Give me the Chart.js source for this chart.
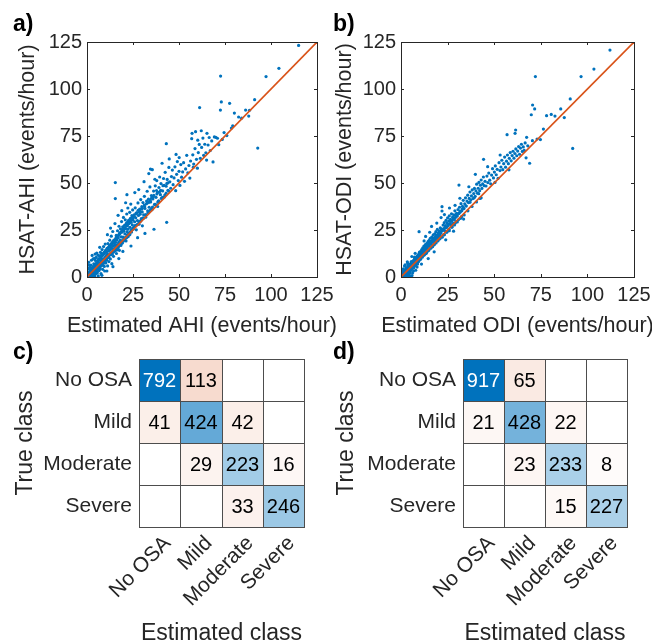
<!DOCTYPE html>
<html>
<head>
<meta charset="utf-8">
<script src="https://cdn.jsdelivr.net/npm/chart.js@4/dist/chart.umd.min.js"></script>
<style>
    body { margin: 0; background: #fff; }
    .wrap { position: relative; width: 652px; height: 644px; overflow: hidden; }
    canvas { position: absolute; }
    .tag { position: absolute; font: bold 23px 'Liberation Sans', Arial, sans-serif; line-height: 23px; color: #000; }
</style>
</head>
<body>
<div class="wrap">
    <canvas id="ahiScatter" width="340" height="343" style="left:0;top:0"></canvas>
    <canvas id="odiScatter" width="334" height="343" style="left:318px;top:0"></canvas>
    <canvas id="ahiMatrix" width="326" height="314" style="left:0;top:330px"></canvas>
    <canvas id="odiMatrix" width="326" height="314" style="left:326px;top:330px"></canvas>
    <div class="tag" style="left:13px;top:12px">a)</div>
    <div class="tag" style="left:333px;top:12px">b)</div>
    <div class="tag" style="left:13px;top:340px">c)</div>
    <div class="tag" style="left:333px;top:340px">d)</div>
</div>
<script>
// scatter values: [estimated, HSAT]
const ahiPoints = [
    [0.5,0.8],[0.8,0.2],[1,1.5],[1.2,0.5],[1.5,2.8],[1.7,1],[2,0.4],[2,3.5],[2.3,2],[2.5,1.2],[2.7,4.6],[3,2.6],[3,0.8],[3.2,5.5],[3.4,3.3],
    [3.5,1.6],[3.7,7],[3.9,4.2],[4,2.4],[4.2,0.5],[4.3,5.9],[4.5,3.6],[4.6,8.8],[4.8,4.9],[4.9,1.9],[1.1,4.2],[0.4,2.5],[2.1,6.3],[1.6,5.1],
    [3.3,9.6],[2.8,11.5],[0.9,7.8],[4.4,12.2],[5,10.4],[3.6,0.1],
    [5.2,4],[5.4,6.8],[5.6,2.2],[5.8,8.1],[6,5.3],[6.1,0.6],[6.3,9.7],[6.5,6.1],[6.6,3.4],[6.8,11.2],[7,7.4],[7.1,4.5],[7.3,13.1],[7.5,8.6],
    [7.6,1.8],[7.8,10],[8,6.6],[8.2,14.6],[8.3,8.9],[8.5,4.1],[8.7,11.8],[8.9,7.3],[9,16.2],[9.2,9.8],[9.4,5.6],[9.5,12.9],[9.7,8.4],[9.9,17.5],
    [10,10.6],[6.9,15.8],[5.3,12.7],[8.1,0.9],[9.6,3.2],
    [10.2,7.5],[10.4,13.7],[10.5,11.4],[10.7,9],[10.9,15.3],[11,12.1],[11.2,5.9],[11.4,17.8],[11.5,10.3],[11.7,13.8],[11.9,8.2],[12,15.9],
    [12.2,11.9],[12.4,19.6],[12.5,14.4],[12.7,9.6],[12.9,16.8],[13,12.7],[13.2,21.7],[13.4,15.2],[13.5,7.1],[13.7,17.9],[13.9,13.4],[14,24.2],
    [14.2,16.3],[14.4,11],[14.6,19.4],[14.8,14.8],[15,17.1],[11.1,22.5],[12.8,26],[10.8,3.2],[14.1,5.5],[15.2,28.4],[15.4,50.2],[15.4,41.7],
    [15.3,13.9],[15.5,18.5],[15.7,16],[15.9,22.1],[16,12.5],[16.2,19.7],[16.4,17.3],[16.6,24.6],[16.8,15.2],[17,20.8],[17.2,18.4],[17.4,27],
    [17.6,14.2],[17.8,22.9],[18,19.5],[18.2,25.6],[18.4,16.8],[18.6,21.3],[18.8,29.5],[19,23.9],[19.2,18.1],[19.4,26.7],[19.6,21.2],[19.8,31.7],
    [20,24.4],[16.9,32.8],[18.9,35.3],[17.3,9.8],[19.5,13.6],
    [20.2,20.3],[20.4,27.5],[20.6,23],[20.8,30.4],[21,25.7],[21.2,19.2],[21.4,28.6],[21.6,33.5],[21.8,24.1],[22,27.3],[22.2,36.7],[22.4,25.5],
    [22.6,30.1],[22.8,22.2],[23,28.8],[23.2,34.4],[23.4,26.4],[23.6,31.2],[23.8,38.8],[24,29.1],[24.2,23.9],[24.4,32.6],[24.6,27.8],[24.8,35.7],
    [25,30.3],[21.7,43.8],[21,39.5],[23.9,16.5],
    [25.3,26.4],[25.6,33],[25.9,29.4],[26.2,36.8],[26.5,31.5],[26.8,25.1],[27.1,34.2],[27.4,30],[27.7,39.4],[28,32.7],[28.3,28.1],[28.6,36.1],
    [28.9,33.4],[29.2,41.2],[29.5,31],[29.8,37.4],[30,34.6],[26,44.9],[28.1,46.5],[30.1,27.2],[27.5,20.9],
    [30.4,39.6],[30.8,33.1],[31.2,42.9],[31.5,36.5],[31.9,31.8],[32.3,38.9],[32.7,45.6],[33,35.2],[33.4,41.4],[33.8,37.1],[34.2,47.9],[34.6,39.9],
    [35,43.3],[31,50.7],[33.6,55],[34.5,57.4],[31.5,23.2],[35.3,35.8],
    [35.5,57.1],[35.8,41.5],[36.2,45.7],[36.4,25.4],[36.7,38.6],[37.1,48.5],[37.5,42.4],[37.9,51.3],[38.3,44.9],[38.7,40.3],[39.1,47.6],
    [39.5,53.2],[39.9,43.8],[36.9,52],[38.4,37.5],
    [40.2,49.7],[40.8,60.5],[41.1,45.8],[41.6,52.4],[42,42.6],[42.5,55.7],[43,48.3],[43.1,70.9],[43.3,29.1],[43.6,51.9],[44,46.1],[44.5,58.3],
    [44.7,62.8],[45,50.6],
    [45.5,47.2],[45.9,53.4],[46.4,56.9],[46.8,49.1],[47.3,52.7],[47.8,58.6],[48.2,45.9],[48.7,54.6],[49.1,61.4],[49.6,51.3],[50,56.2],[50.5,48.7],
    [51,59.8],[51.4,53.1],[52,55.9],[52.5,60.8],[53,50.9],[53.6,57.5],[54.2,64.7],[54.8,55.4],[50.1,63.5],[48.4,65.2],
    [55.4,59.3],[55.9,52.6],[56.3,61.7],[56.9,73.6],[57.1,76.4],[57.5,65],[58,60.1],[58.7,68.3],[59,77.3],[59.5,62.6],[60,57.9],[60.5,66.2],
    [61,70.5],[61.2,90.1],[61.6,63.1],[62.1,77.8],[62.3,68.9],[63,73.9],[63.4,64.7],[64,70.6],[64.6,66.1],[65.2,76.4],[65,62.2],[57.8,58.4],[60.2,72.8],
    [65.8,70.2],[66.4,74.2],[67,67.3],[67.8,72.4],[68.5,61.2],[69.2,74.5],[70,74.3],[70.9,73.8],[71.6,70.4],[72.5,88.8],[72.6,106.9],[73,93.1],
    [73.5,73.2],[74.5,76.8],[76,75.2],
    [77.5,92.4],[78.5,79.2],[79.2,80.4],[80.1,87.2],[82.4,85.1],[84,84.5],[86.2,88.8],[87.9,85.6],[88.3,88.7],[91.1,94.3],[92.8,68.6],
    [97.3,106.6],[104.3,111],[115,123.2],
    [0.3,0.5],[0.7,1.6],[1.3,0.9],[1.9,3.1],[2.4,1.8],[2.9,4.6],[3.1,2.2],[3.8,5.4],[4.1,3],[4.7,6.9],[5.1,4.2],[5.5,7.7],[5.9,5.1],[6.2,8.9],
    [6.4,5.8],[6.7,9.6],[7.2,6.6],[7.4,10.8],[7.9,7.2],[8.4,11.6],[8.6,7.9],[8.8,12.4],[9.1,8.6],[9.3,13.1],[9.8,9.5],[10.1,14.2],[10.3,9.8],
    [10.6,13.3],[11.3,10.9],[11.6,15.7],[11.8,11.4],[12.1,16.3],[12.3,12.1],[12.6,15.9],[13.1,12.6],[13.3,17.8],[13.6,13.2],[13.8,18.4],
    [14.3,14.1],[14.5,19.3],[14.7,14.6],[14.9,18.1],[15.6,15.2],[15.8,20.9],[16.1,16.4],[16.3,21.6],[16.7,16.9],[17.1,22.2],[17.5,17.6],[17.9,23.5],
    [18.3,18.2],[18.7,24.2],[19.1,19.3],[19.7,25.4],[20.3,20.6],[20.7,26.1],[21.1,21.3],[21.5,27.2],[21.9,22.4],[22.3,28.3],[22.7,23.2],[23.1,29.1],
    [23.5,24],[23.9,30.4],[24.3,25.2],[24.7,31.2],[25.2,26],[25.7,32.3],[26.3,27.4],[26.9,33.6],[27.6,28.1],[28.4,34.5],[29,29.6],[29.7,36.2],
    [30.5,31.4],[31.3,37.5],[32,33],[32.8,39.4],[33.5,34.6],[34.3,40.8],[35.1,36.3],[36,42.5],[37,38.4],[38,44.2],[39,40.5],[40,46.1],[41,42.4],
    [42,48.7],[43,44.6],[44,50.1],
    [0.6,1.9],[1.4,0.3],[1.8,2.4],[2.2,1.1],[2.6,3.3],[3.5,4.5],[4.2,3.1],[4.6,6.4],[5.3,3.2],[5.7,7.4],[6.3,4.4],[6.6,9.1],[7.1,6.2],[7.7,7.1],
    [8.1,11.3],[8.5,6.2],[9.2,12.4],[9.6,7.6],[10.2,13.4],[10.9,10.8],[11.4,14.9],[11.9,10.6],[12.4,16.8],[12.9,11.9],[13.4,17.3],[13.8,12.2],
    [14.2,18.6],[14.6,13.4],[15.1,19.9],[15.5,15.2],[15.9,20.5],[16.3,14.4],[16.8,21.7],[17.2,16.2],[17.6,23.1],[18.1,17.4],[18.5,23.8],[18.9,17.9],
    [19.3,24.9],[19.8,19.1],[20.2,25.7],[20.6,19.8],[21,27.6],[21.5,20.9],[21.9,29.1],[22.3,21.4],[22.8,28.4],[23.3,22.6],[23.7,29.9],[24.2,24.8],
    [24.6,31.3],[25.1,25.4],[25.5,31.9],[26,27.2],[26.6,33.8],[27.1,27.8],[27.8,35.5],[28.3,29.4],[28.8,34.9],[29.4,30.2],[30,36.6],[30.6,31.2],
    [31.2,38.3],[31.8,33.1],[32.4,40.4],[33.1,34.2],[33.7,39.7],[34.4,35.6],[35,41.9],[35.6,37.2],[36.3,43.4],[37.2,38.6],[37.8,46],[38.6,39.7],
    [39.3,45.1],[40.4,41.8],[41.3,48.6],[42.3,43.6],[43.4,49.8],[44.4,45.7],
    [0.2,1.2],[0.5,0.1],[1.1,2.6],[1.5,0.6],[2.1,1.7],[2.6,0.5],[3,4.4],[3.4,1.1],[3.9,5.3],[4.3,1.5],[4.9,7.1],[5.4,2.7],[5.9,4.6],[6.6,5.2],
    [7.3,5.6],[7.9,12.2],[6,11.6],[4.1,9.9],[2.4,8.9],[1.2,6.3],[0.6,4.6]
]
const odiPoints = [
    [0.3,0.4],[0.6,1.2],[0.9,0.3],[1.1,1.8],[1.4,0.9],[1.6,2.6],[1.8,1.5],[2.1,3.1],[2.3,0.6],[2.5,2.3],[2.7,3.9],[2.9,1.8],[3.1,3.4],[3.3,4.8],
    [3.5,2.6],[3.7,4.1],[3.9,1.2],[4.1,5.4],[4.3,3.6],[4.5,4.8],[4.7,6.5],[4.9,2.9],[5.1,5.6],[5.3,7.2],[5.5,4.3],[5.7,6.2],[5.9,0.8],[6.1,7.7],
    [6.3,5.4],[6.5,6.9],[6.7,8.6],[6.9,4.9],[7.1,7.8],[7.3,9.4],[7.5,6.3],[7.7,8.4],[7.9,3.6],[8.1,9.9],[8.3,7.5],[8.5,8.9],[8.7,11],[8.9,6.9],
    [9.1,10.2],[9.3,11.9],[9.5,8.3],[9.7,10.6],[9.9,13.2],[1.3,4.3],[2.2,6.4],[3.4,8.1],[0.8,3.1],[4.4,0.3],[6.2,2.1],[7.6,12.6],[9.7,24.1],
    [5.8,10.9],[2.6,0.2],[1.9,5.8],
    [10.1,9.6],[10.3,11.8],[10.5,13.5],[10.7,10.4],[10.9,12.4],[11.1,14.6],[11.3,11.3],[11.5,13.1],[11.7,15.5],[11.9,12.2],[12.1,14.3],[12.3,16.5],
    [12.5,11.8],[12.7,15.1],[12.9,13.6],[13.1,17.2],[13.3,14.4],[13.5,16.1],[13.7,12.7],[13.9,17.9],[14.1,15.2],[14.3,16.8],[14.5,18.8],[14.7,14.1],
    [14.9,17.4],[15.1,19.5],[15.3,16.2],[15.5,18.1],[15.7,20.6],[15.9,15.6],[16.1,19],[16.3,17.4],[16.5,21.2],[16.7,18.6],[16.9,16.3],[17.1,20.1],
    [17.3,22.4],[17.5,18.9],[17.7,20.7],[17.9,17.5],[18.1,22.9],[18.3,19.8],[18.5,21.5],[18.7,24.1],[18.9,19.2],[19.1,22.3],[19.3,20.6],[19.5,25.3],
    [19.7,21.4],[19.9,23.5],[11,6.9],[13.2,21.6],[14.6,9.8],[16.4,26.9],[12.4,19.2],[17.8,13.4],[15.4,23.8],[19.2,28.7],
    [20.2,21.9],[20.5,24.6],[20.8,22.5],[21.1,26.2],[21.4,23.3],[21.7,25.4],[22,37.4],[22,35.1],[22.3,24.8],[22.6,27.6],[22.9,25.2],[23.2,28.9],
    [23.5,24.7],[23.8,27.4],[24.1,30.1],[24.4,26.3],[24.7,28.8],[25,31.4],[25.3,27.2],[25.6,29.8],[25.9,32.5],[26.2,28.3],[26.5,30.7],[26.8,27.9],
    [27.1,33.6],[27.4,29.9],[27.7,31.8],[28,28.6],[28.3,33.1],[28.6,30.6],[28.9,35.2],[29.2,31.7],[29.5,29.5],[29.8,33.9],[21.5,31.6],[24,19.8],
    [26,36.7],[28.2,24.4],[23.3,33.2],[29,38.1],
    [30.2,32.4],[30.6,35.9],[31,33.8],[31.1,48.9],[31.4,37.1],[31.8,34.6],[32.2,39],[32.6,35.2],[33,37.6],[33.4,40.8],[33.8,36.4],[34.2,38.9],
    [34.6,42.1],[35,37.7],[35.4,40.4],[35.8,43.5],[36.2,39.6],[36.6,41.8],[37,45.2],[37.4,40.9],[37.8,43.1],[38.2,46.3],[38.6,41.7],[39,44.4],
    [39.4,47.1],[39.8,42.9],[40.2,45.8],[40.6,49.4],[41,44.6],[41.4,47.2],[41.8,50.3],[42.2,45.9],[42.6,48.8],[43,51.6],[43.4,47.1],[43.8,49.5],
    [44.3,62.6],[44.2,53.2],[44.6,48.6],[39.9,54.6],[33.6,30.8],[36.4,48],[42.4,41.8],[31.6,41.9],
    [45.1,50.9],[45.6,48.4],[46.1,53.7],[46.6,50.2],[47.1,55.3],[47.6,51.5],[48.1,49.6],[48.6,54.2],[49.1,57.6],[49.6,52.7],[50.1,55.8],[50.6,59.1],
    [51.1,54.4],[51.6,57.3],[52.1,52.5],[52.6,60.8],[53.1,56.6],[53.6,58.5],[54.1,62.1],[54.6,57.1],[55.1,60.3],[55.6,63.8],[56.1,58.4],[56.6,61.6],
    [56.9,75.7],[57.1,64.9],[57.6,60.3],[58.1,63.1],[58.6,66.2],[59.1,61.8],[59.6,64.6],[46.5,58.7],[50.4,50.3],[53.2,64.9],[57.9,57],
    [60.1,66.9],[60.6,63.2],[61.1,65.7],[61.5,78.2],[61.2,76.4],[61.6,68.1],[62.1,64.5],[62.6,67],[63.1,69.4],[63.6,65.3],[64.1,68.6],[64.6,70.6],
    [65.1,66.8],[65.6,69.2],[66.1,67.4],[66.6,71.3],[67.4,74.3],[67.1,63.4],[68,69.8],[69,60.5],[73,73.4],[70.5,72.5],[69.9,86.3],[70.6,91.5],
    [71.7,89.4],[72.1,106.6],[74.8,73.1],
    [76.4,78.7],[78.1,85.8],[80.6,86.5],[82.6,85.6],[85.7,89.4],[87.6,84.8],[90.8,94.7],[92.1,68.4],[96.6,106.6],[103.5,110.6],[112.1,120.7],
    [0.5,0.7],[1,2],[1.5,1.1],[2,2.9],[2.4,1.9],[2.8,4.1],[3.2,2.8],[3.6,5.2],[4,3.7],[4.6,6.4],[5,4.6],[5.4,7.3],[6,5.5],[6.4,8.4],[6.8,6.6],
    [7.2,9.5],[7.8,7.4],[8.2,10.6],[8.6,8.1],[9,11.4],[9.4,9.2],[9.8,12.1],[10.2,10],[10.6,13.2],[11.2,11],[11.6,14.1],[12.2,12.1],[12.6,15],
    [13.2,12.9],[13.6,16.2],[14.2,14.1],[14.8,17.3],[15.2,15.1],[15.8,18.6],[16.2,16.2],[16.8,19.4],[17.4,17.1],[18,20.7],[18.6,18.4],[19.4,22.1],
    [20,19.8],[20.7,23.6],[21.3,21.2],[22.1,24.8],[22.8,22.3],[23.6,26.4],[24.3,23.9],[25.1,28.2],[25.8,25.4],[26.6,29.6],[27.4,26.9],[28.2,31.3],
    [29,28.6],[29.9,32.8],[30.8,30.4],[31.7,34.9],[32.5,32.1],[33.5,36.6],
    [0.4,1.5],[0.9,0.1],[1.3,2.1],[1.7,0.4],[2.3,3.4],[2.6,1.4],[3.1,4.1],[3.5,1.9],[4,5.1],[4.3,2.4],[4.8,6.1],[5.2,3.6],[5.6,7.1],[6.1,4.5],
    [6.5,8.1],[6.9,5.8],[7.4,8.7],[7.8,6.2],[8.3,10.1],[8.8,7.6],[9.2,11.3],[9.6,8.9],[10.1,12.4],[10.5,9.4],[11,13.1],[11.4,10.5],[11.9,14.2],
    [12.3,11.6],[12.8,14.9],[13.2,12.4],[13.7,16.1],[14.1,13.5],[14.6,17],[15,14.3],[15.5,17.9],[16,15.3],[16.4,18.9],[16.9,16.1],[17.4,19.8],
    [17.8,17.2],[18.3,21],[18.8,18.1],[19.3,21.9],[19.8,19.2],[20.4,23.2],[20.9,20.3],[21.5,24.1],[22.1,21.2],[22.7,25.6],[23.3,22.5],[23.9,26.4],
    [24.6,23.8],[25.2,27.8],[25.9,24.6],[26.6,29.5],[27.3,26.4],[28,30.9],[28.7,27.7],[29.4,32.6],[30.2,29.3],[31.1,33.9],[32,31.2],[32.9,36.1],
    [33.9,33],[34.8,37.9],[35.9,35.2],[37,39.7],[38.1,37.5],[39.3,42.1],[40.5,39.9],[41.7,44.3],[43,42.1],
    [0.2,0.9],[0.7,2.4],[1.2,0.7],[1.6,3.5],[2,0.9],[2.9,4.9],[3.3,0.4],[3.8,6.3],[4.6,1.8],[5.5,8.2],[6.7,3.2],[7.2,10.6],[8.6,5.3],[5,0.4],[3.6,7.2]
]
const identityLine = [0, 125]
const axisTicks = [0, 25, 50, 75, 100, 125]

// confusion matrices, rows = true class, columns = estimated class
const classes = ['No OSA', 'Mild', 'Moderate', 'Severe']
const ahiCounts = [
    [792, 113, 0, 0],
    [41, 424, 42, 0],
    [0, 29, 223, 16],
    [0, 0, 33, 246]
]
const odiCounts = [
    [917, 65, 0, 0],
    [21, 428, 22, 0],
    [0, 23, 233, 8],
    [0, 0, 15, 227]
]

const family = "'Liberation Sans', Arial, sans-serif"
Chart.defaults.font.family = family
Chart.defaults.color = '#262626'

const ink = '#262626'

// MATLAB style box with inward ticks on all four sides
const boxPlugin = {
    id: 'box',
    afterDatasetsDraw(chart) {
        const {ctx, chartArea: a, scales: {x, y}} = chart
        const len = 3
        ctx.save()
        ctx.strokeStyle = ink
        ctx.lineWidth = 1
        ctx.beginPath()
        x.ticks.forEach(t => {
            const px = Math.round(x.getPixelForValue(t.value)) + 0.5
            ctx.moveTo(px, a.bottom); ctx.lineTo(px, a.bottom - len)
            ctx.moveTo(px, a.top); ctx.lineTo(px, a.top + len)
        })
        y.ticks.forEach(t => {
            const py = Math.round(y.getPixelForValue(t.value)) + 0.5
            ctx.moveTo(a.left, py); ctx.lineTo(a.left + len, py)
            ctx.moveTo(a.right, py); ctx.lineTo(a.right - len, py)
        })
        ctx.stroke()
        ctx.strokeRect(Math.round(a.left) + 0.5, Math.round(a.top) + 0.5,
            Math.round(a.right - a.left), Math.round(a.bottom - a.top))
        ctx.restore()
    }
}

// axis titles drawn at full width (the built-in title squeezes long text)
const titlePlugin = {
    id: 'axisTitles',
    afterDraw(chart, args, opts) {
        const {ctx, chartArea: a} = chart
        ctx.save()
        ctx.fillStyle = ink
        ctx.font = `${opts.size}px ${family}`
        ctx.textAlign = 'center'
        ctx.textBaseline = 'middle'
        ctx.fillText(opts.x, (a.left + a.right) / 2, opts.xAt)
        ctx.translate(opts.yAt, (a.top + a.bottom) / 2)
        ctx.rotate(-Math.PI / 2)
        ctx.fillText(opts.y, 0, 0)
        ctx.restore()
    }
}

const makeScatter = (id, points, xTitle, yTitle, yWidth, padRight, yTitleAt) => {
    new Chart(document.getElementById(id), {
        type: 'scatter',
        data: {
            datasets: [
                {
                    type: 'line',
                    data: identityLine.map(v => ({x: v, y: v})),
                    borderColor: '#D95319',
                    borderWidth: 1.6,
                    pointRadius: 0,
                    order: 0
                },
                {
                    data: points.map(p => ({x: p[0], y: p[1]})),
                    pointRadius: 1.6,
                    pointBorderWidth: 0,
                    pointBackgroundColor: '#0072BD',
                    order: 1
                }
            ]
        },
        options: {
            responsive: false,
            animation: false,
            events: [],
            layout: {padding: {top: 42, right: padRight, left: 0, bottom: 0}},
            plugins: {
                legend: {display: false},
                tooltip: {enabled: false},
                axisTitles: {x: xTitle, y: yTitle, size: 21.5, xAt: 326, yAt: yTitleAt}
            },
            scales: {
                x: {
                    type: 'linear', min: 0, max: 125,
                    afterBuildTicks: s => { s.ticks = axisTicks.map(v => ({value: v})) },
                    afterFit: s => { s.height = 66; s.paddingLeft = 0; s.paddingRight = 0 },
                    grid: {display: false, drawTicks: false},
                    border: {display: false},
                    ticks: {padding: 6, font: {size: 20}, color: ink}
                },
                y: {
                    type: 'linear', min: 0, max: 125,
                    afterBuildTicks: s => { s.ticks = axisTicks.map(v => ({value: v})) },
                    afterFit: s => { s.width = yWidth; s.paddingTop = 0; s.paddingBottom = 0 },
                    grid: {display: false, drawTicks: false},
                    border: {display: false},
                    ticks: {padding: 5, font: {size: 20}, color: ink}
                }
            }
        },
        plugins: [boxPlugin, titlePlugin]
    })
}

// cell colours scale from white toward blue (diagonal) or orange (off-diagonal)
const shade = (base, f) => base.map(c => Math.round(255 - f * (255 - c)))

const matrixPlugin = {
    id: 'matrix',
    beforeDatasetsDraw(chart) {
        const {ctx, scales: {x, y}} = chart
        const cells = chart.data.datasets[0].data
        const top = Math.max(...cells.map(c => c.v))
        ctx.save()
        cells.forEach(c => {
            const col = classes.indexOf(c.x)
            const row = classes.indexOf(c.y)
            const x0 = Math.round(x.getPixelForValue(col - 0.5))
            const x1 = Math.round(x.getPixelForValue(col + 0.5))
            const y0 = Math.round(y.getPixelForValue(row - 0.5))
            const y1 = Math.round(y.getPixelForValue(row + 0.5))
            const f = Math.pow(c.v / top, 0.8)
            const rgb = c.v === 0 ? [255, 255, 255] : shade(row === col ? [0, 114, 189] : [217, 83, 25], f)
            ctx.fillStyle = `rgb(${rgb.join(',')})`
            ctx.fillRect(Math.min(x0, x1), Math.min(y0, y1), Math.abs(x1 - x0), Math.abs(y1 - y0))
            if (c.v > 0) {
                const lum = 0.299 * rgb[0] + 0.587 * rgb[1] + 0.114 * rgb[2]
                ctx.fillStyle = lum < 140 ? '#ffffff' : '#000000'
                ctx.font = `20px ${family}`
                ctx.textAlign = 'center'
                ctx.textBaseline = 'middle'
                ctx.fillText(String(c.v), (x0 + x1) / 2, (y0 + y1) / 2 + 1)
            }
        })
        ctx.strokeStyle = '#4d4d4d'
        ctx.lineWidth = 1
        ctx.beginPath()
        for (let i = 0; i <= classes.length; i++) {
            const px = Math.round(x.getPixelForValue(i - 0.5)) + 0.5
            const py = Math.round(y.getPixelForValue(i - 0.5)) + 0.5
            ctx.moveTo(px, Math.round(y.getPixelForValue(-0.5)))
            ctx.lineTo(px, Math.round(y.getPixelForValue(classes.length - 0.5)) + 1)
            ctx.moveTo(Math.round(x.getPixelForValue(-0.5)), py)
            ctx.lineTo(Math.round(x.getPixelForValue(classes.length - 0.5)) + 1, py)
        }
        ctx.stroke()
        ctx.restore()
    }
}

const makeMatrix = (id, counts, yWidth, padRight, yTitleAt) => {
    const cells = []
    counts.forEach((row, i) => {
        row.forEach((v, j) => { cells.push({x: classes[j], y: classes[i], v: v}) })
    })
    new Chart(document.getElementById(id), {
        type: 'scatter',
        data: {
            datasets: [{data: cells, pointRadius: 0}]
        },
        options: {
            responsive: false,
            animation: false,
            events: [],
            layout: {padding: {top: 29, right: padRight, left: 0, bottom: 0}},
            plugins: {
                legend: {display: false},
                tooltip: {enabled: false},
                axisTitles: {x: 'Estimated class', y: 'True class', size: 23, xAt: 304, yAt: yTitleAt}
            },
            scales: {
                x: {
                    type: 'category', labels: classes, offset: true,
                    afterFit: s => { s.height = 117; s.paddingLeft = 0; s.paddingRight = 0 },
                    grid: {display: false, drawTicks: false},
                    border: {display: false},
                    ticks: {minRotation: 45, maxRotation: 45, autoSkip: false, labelOffset: 8, padding: 4, font: {size: 21}, color: ink}
                },
                y: {
                    type: 'category', labels: classes, offset: true,
                    afterFit: s => { s.width = yWidth; s.paddingTop = 0; s.paddingBottom = 0 },
                    grid: {display: false, drawTicks: false},
                    border: {display: false},
                    ticks: {padding: 7, autoSkip: false, font: {size: 21}, color: ink}
                }
            }
        },
        plugins: [matrixPlugin, titlePlugin]
    })
}

makeScatter('ahiScatter', ahiPoints, 'Estimated AHI (events/hour)', 'HSAT-AHI (events/hour)', 87, 23, 28.5)
makeScatter('odiScatter', odiPoints, 'Estimated ODI (events/hour)', 'HSAT-ODI (events/hour)', 83, 18, 27)
makeMatrix('ahiMatrix', ahiCounts, 139, 22, 26)
makeMatrix('odiMatrix', odiCounts, 137, 25, 21)
</script>
</body>
</html>
